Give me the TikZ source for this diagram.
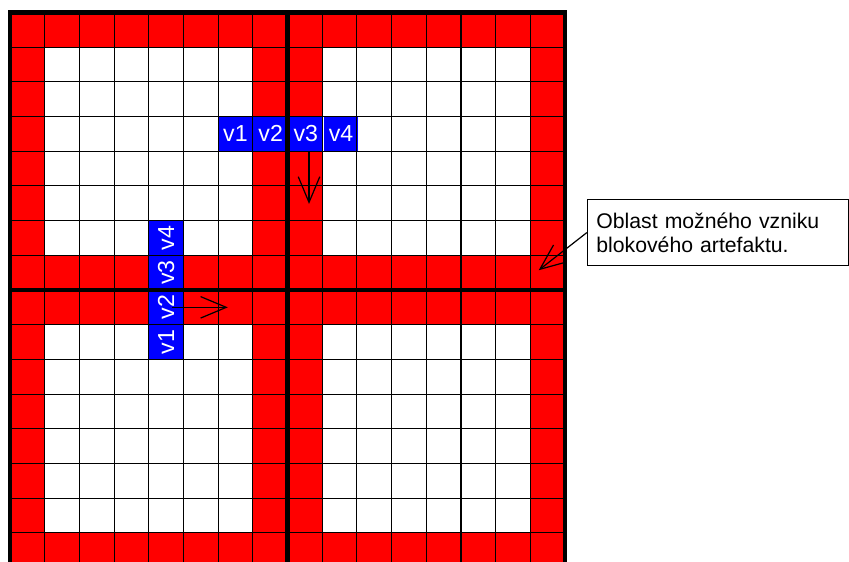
\documentclass[tikz,border=0pt]{standalone}
\usepackage{fontspec}
\setmainfont{Liberation Sans}
\usetikzlibrary{arrows.meta,positioning}

\begin{document}
\begin{tikzpicture}[
    >={Straight Barb[length=0.74cm,width=0.62cm]},
    node distance=0pt,
    cellbox/.style={fill=blue, text=white,
        minimum size=1cm, inner sep=0pt,
        font=\fontsize{19}{19}\selectfont},
    gridline/.style={line width=0.9pt},
    blockline/.style={line width=3.8pt},
    note/.style={draw, line width=0.8pt, anchor=north west,
        minimum width=7.52cm, minimum height=1.9cm,
        inner xsep=0.26cm, text width=7cm, align=left,
        font=\fontsize{17.4}{19.7}\selectfont},
    pointer/.style={->, line width=1pt}
]
\useasboundingbox (-0.288,0.16) rectangle (24.186,16.36);
% red border of each 8x8 block
\foreach \bx in {0,8} {
  \foreach \by in {0,8} {
    \fill[red] (\bx,\by) rectangle ++(8,8);
    \fill[white] (\bx+1,\by+1) rectangle ++(6,6);
  }
}
% blue pixel rows
\node[cellbox] (h1) at (6.5,12.5) {v1};
\node[cellbox, right=of h1] (h2) {v2};
\node[cellbox, right=of h2] (h3) {v3};
\node[cellbox, right=of h3] (h4) {v4};
\foreach \i/\y in {1/6.5,2/7.5,3/8.5,4/9.5}
  \node[cellbox, rotate=90] (c\i) at (4.5,\y) {v\i};
% grid and block edges
\draw[gridline] (0,0) grid (16,16);
\draw[blockline] (0,0) rectangle (16,16);
\draw[blockline] (8,0) -- (8,16) (0,8) -- (16,8);
% callout
\node[note] (note) at (16.63,10.62) {Oblast možného vzniku\\blokového artefaktu.};
\coordinate (tipA) at (8.62,10.48);
\coordinate (tipB) at (6.28,7.5);
\coordinate (tipC) at (15.24,8.57);
\draw[pointer] (h3.south -| tipA) -- (tipA);
\draw[pointer] ([xshift=0.17cm]c2.center) -- (tipB);
\draw[pointer] (note.west) -- (tipC);
\end{tikzpicture}
\end{document}
